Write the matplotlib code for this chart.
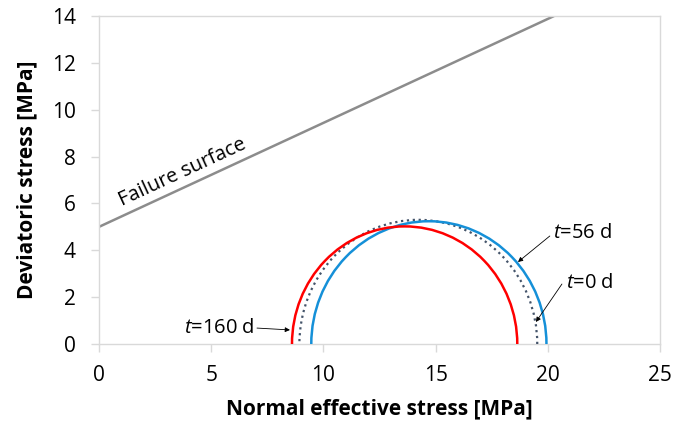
import matplotlib
matplotlib.use("Agg")
import matplotlib.pyplot as plt
from matplotlib.patches import Arc
import numpy as np

# Data (MPa)
circle_names = ["t=0 d", "t=56 d", "t=160 d"]
circle_centers = [14.23, 14.70, 13.62]
circle_radii = [5.30, 5.24, 5.02]
circle_colors = ["#44546A", "#1590D8", "#FF0000"]
circle_styles = [":", "-", "-"]

fail_x = [0.0, 20.28]
fail_y = [5.0, 14.0]

x_ticks = [0, 5, 10, 15, 20, 25]
y_ticks = [0, 2, 4, 6, 8, 10, 12, 14]

plt.rcParams['font.family'] = ['Open Sans', 'DejaVu Sans']
plt.rcParams['mathtext.fontset'] = 'custom'
plt.rcParams['mathtext.it'] = 'Open Sans:italic'
plt.rcParams['mathtext.rm'] = 'Open Sans'

fig = plt.figure(figsize=(6.75, 4.25), dpi=100)
ax = fig.add_axes([99/675, 1-344/425, (660-99)/675, (344-16)/425])

ax.set_xlim(0, 25)
ax.set_ylim(0, 14)

# Failure surface
ax.plot(fail_x, fail_y, color="#8C8C8C", lw=1.8, solid_capstyle="butt", zorder=2)

# Mohr semicircles
for c, r, col, ls in zip(circle_centers, circle_radii, circle_colors, circle_styles):
    arc = Arc((c, 0), 2*r, 2*r, theta1=0, theta2=180, color=col,
              lw=1.6 if ls == ":" else 1.8, linestyle=ls, zorder=3)
    ax.add_patch(arc)

# Failure surface label
slope = (fail_y[1]-fail_y[0])/(fail_x[1]-fail_x[0])
xl = 3.9
ang_px = np.degrees(np.arctan(slope * (328/14) / (561/25)))
ax.text(xl, fail_y[0] + slope*xl + 0.2, "Failure surface", rotation=ang_px,
        rotation_mode="anchor", ha="center", va="bottom", fontsize=14.5, color="black")

# Annotations
arrowprops = dict(arrowstyle="-|>", color="black", lw=0.6, mutation_scale=7,
                  shrinkA=0, shrinkB=0)
ax.annotate("", xy=(8.51, 0.60), xytext=(7.04, 0.68), arrowprops=arrowprops)
ax.text(6.95, 0.68, r"$\mathit{t}$=160 d", ha="right", va="center", fontsize=14.5)

ax.annotate("", xy=(18.67, 3.50), xytext=(20.09, 4.61), arrowprops=arrowprops)
ax.text(20.25, 4.74, r"$\mathit{t}$=56 d", ha="left", va="center", fontsize=14.5)

ax.annotate("", xy=(19.47, 0.94), xytext=(20.63, 2.56), arrowprops=arrowprops)
ax.text(20.82, 2.62, r"$\mathit{t}$=0 d", ha="left", va="center", fontsize=14.5)

# Axes styling
for s in ax.spines.values():
    s.set_color("#D9D9D9")
    s.set_linewidth(1.0)
ax.set_xticks(x_ticks)
ax.set_yticks(y_ticks)
ax.set_xticklabels([str(v) for v in x_ticks])
ax.set_yticklabels([str(v) for v in y_ticks])
ax.tick_params(axis="both", direction="out", length=5.8, width=1.0, color="#D9D9D9",
               labelsize=15, labelcolor="black")
ax.tick_params(axis="x", pad=9)
ax.tick_params(axis="y", pad=11)

ax.set_xlabel("Normal effective stress [MPa]", fontsize=15, fontweight="bold", labelpad=9)
ax.set_ylabel("Deviatoric stress [MPa]", fontsize=15, fontweight="bold", labelpad=10)

fig.savefig("out.png", dpi=100)
